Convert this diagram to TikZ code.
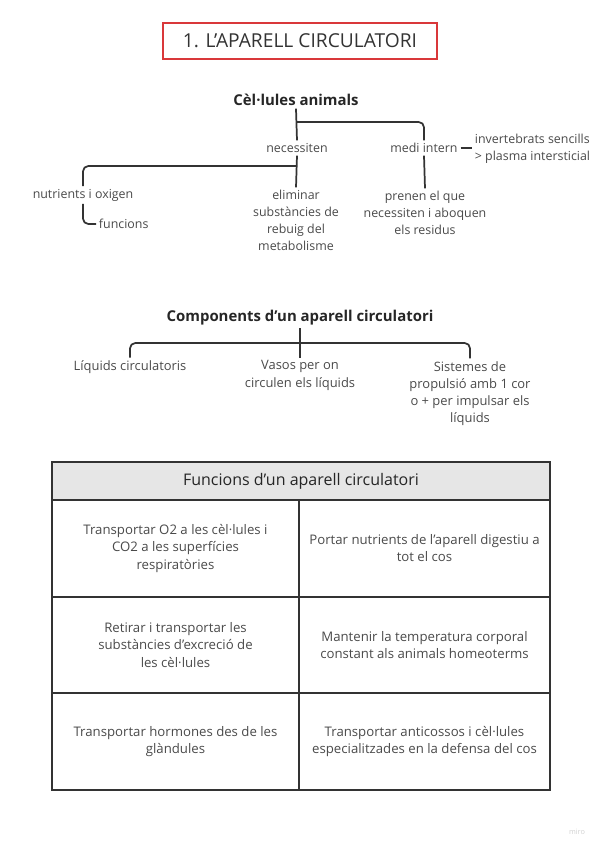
\documentclass[tikz,border=0pt]{standalone}
\usepackage{fontspec}
\setmainfont{Open Sans}
\usetikzlibrary{calc}
\definecolor{txt}{HTML}{4A4A4A}
\definecolor{dark}{HTML}{262626}
\definecolor{lin}{HTML}{333333}
\definecolor{redb}{HTML}{D9383A}
\definecolor{hdr}{HTML}{E6E6E6}
\begin{document}
\begin{tikzpicture}[x=0.75pt,y=-0.75pt,
  every node/.style={inner sep=2pt, text=txt, font=\fontsize{9.3}{12.7}\selectfont},
  lbl/.style={align=center},
  cmp/.style={align=center, font=\fontsize{9.7}{12.9}\selectfont},
  head/.style={font=\bfseries\fontsize{11.2}{13}\selectfont, text=dark},
  conn/.style={draw=lin, line width=1.3pt, rounded corners=4pt},
  cell/.style={draw=lin, line width=1.6pt, align=center, inner sep=0pt, font=\fontsize{9.9}{12.8}\selectfont},
]
\useasboundingbox (0,0) rectangle (600,848);
% title
\node[draw=redb, line width=1.3pt, minimum width=274*0.75pt, minimum height=36*0.75pt,
      font=\fontsize{14.4}{18}\selectfont, text=lin] (title) at (300,41) {1. L'APARELL CIRCULATORI};
% first tree
\node[head] (cel) at (296,100) {Cèl·lules animals};
\node[lbl] (nec) at (297,148) {necessiten};
\node[lbl] (medi) at (424,148) {medi intern};
\node[align=left, anchor=west] (inv) at (472,149) {invertebrats sencills\\> plasma intersticial};
\node[lbl] (nut) at (83,195) {nutrients i oxigen};
\node[anchor=west] (func) at (96,224) {funcions};
\node[lbl] (elim) at (296,220.5) {eliminar\\substàncies de\\rebuig del\\metabolisme};
\node[lbl] (pren) at (425,213) {prenen el que\\necessiten i aboquen\\els residus};
\coordinate (j1) at (296,122);
\coordinate (j2) at (296,166);
\draw[conn] (cel.south) -- (nec.north);
\draw[conn] (j1) -| (medi.north);
\draw[conn] (nec.south) -- (elim.north);
\draw[conn] (j2) -| (nut.north);
\draw[conn] (medi.south) -- (pren.north);
\draw[conn] (nut.south) |- (func.west);
\draw[draw=lin, line width=2.2pt] (medi.east) -- (inv.west |- medi.east);
% components
\node[head] (comp) at (300,318) {Components d'un aparell circulatori};
\node[cmp] (liq) at (130,367) {Líquids circulatoris};
\node[cmp] (vas) at (300,375.5) {Vasos per on\\circulen els líquids};
\node[cmp] (sis) at (470,393.5) {Sistemes de\\propulsió amb 1 cor\\o + per impulsar els\\líquids};
\coordinate (j3) at (300,343);
\draw[conn] (liq.north) |- (j3) -| (sis.north);
\draw[conn, line width=1.8pt] (comp.south) -- (vas.north);
% table
\node[cell, fill=hdr, minimum width=498*0.75pt, minimum height=38*0.75pt,
      font=\fontsize{12}{14}\selectfont, text=dark] (th) at (301,481) {Funcions d'un aparell circulatori};
\node[cell, minimum width=247*0.75pt, minimum height=97*0.75pt] (c11) at (175.5,548.5)
  {Transportar O2 a les cèl·lules i\\CO2 a les superfícies\\respiratòries};
\node[cell, minimum width=251*0.75pt, minimum height=97*0.75pt] (c12) at (424.5,548.5)
  {Portar nutrients de l'aparell digestiu a\\tot el cos};
\node[cell, minimum width=247*0.75pt, minimum height=96*0.75pt] (c21) at (175.5,645)
  {Retirar i transportar les\\substàncies d'excreció de\\les cèl·lules};
\node[cell, minimum width=251*0.75pt, minimum height=96*0.75pt] (c22) at (424.5,645)
  {Mantenir la temperatura corporal\\constant als animals homeoterms};
\node[cell, minimum width=247*0.75pt, minimum height=97*0.75pt] (c31) at (175.5,741.5)
  {Transportar hormones des de les\\glàndules};
\node[cell, minimum width=251*0.75pt, minimum height=97*0.75pt] (c32) at (424.5,741.5)
  {Transportar anticossos i cèl·lules\\especialitzades en la defensa del cos};
% watermark
\node[text=black!18, font=\fontsize{5.5}{6}\selectfont] (miro) at (577,832) {miro};
\end{tikzpicture}
\end{document}
